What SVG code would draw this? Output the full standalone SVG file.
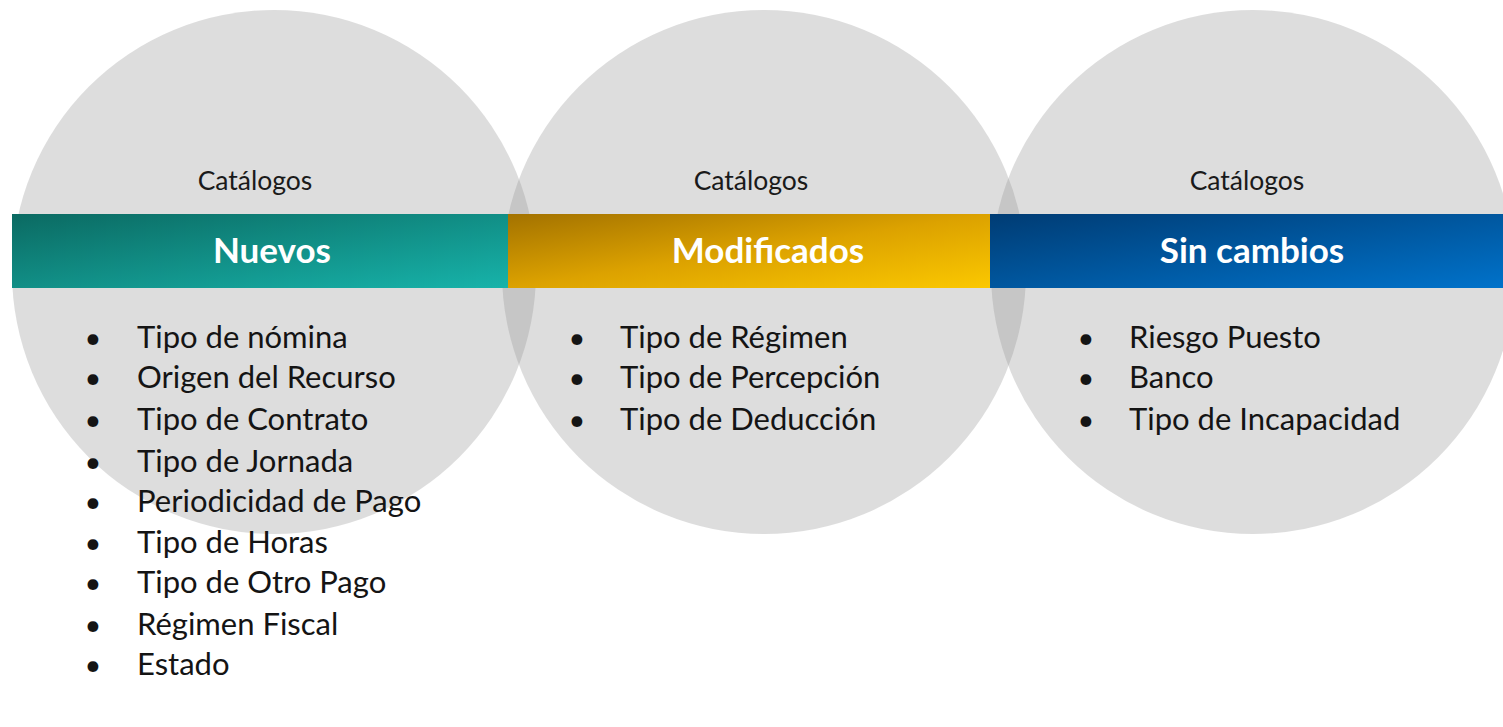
<svg xmlns="http://www.w3.org/2000/svg" width="1503" height="727" viewBox="0 0 1503 727">
<defs>
<linearGradient id="gTeal" x1="0" y1="0" x2="1" y2="1"><stop offset="0" stop-color="#0b6a62"/><stop offset="1" stop-color="#17b3aa"/></linearGradient>
<linearGradient id="gGold" x1="0" y1="0" x2="1" y2="1"><stop offset="0" stop-color="#a37200"/><stop offset="0.5" stop-color="#dca200"/><stop offset="1" stop-color="#fbc800"/></linearGradient>
<linearGradient id="gBlue" x1="0" y1="0" x2="1" y2="1"><stop offset="0" stop-color="#003c74"/><stop offset="1" stop-color="#0072ca"/></linearGradient>
<style>
.circ{fill:#959595;fill-opacity:0.32}
.cat{font-family:Lato,"Open Sans",sans-serif;font-size:26.5px;fill:#1a1a1a;text-anchor:middle}
.title{font-family:Lato,"Open Sans",sans-serif;font-size:35px;font-weight:bold;fill:#ffffff;text-anchor:middle}
.item{font-family:Lato,"Open Sans",sans-serif;font-size:31px;fill:#141414}
.bul{font-family:Lato,"Open Sans",sans-serif;font-size:29px;fill:#141414;text-anchor:middle}
</style>
</defs>
<rect width="1503" height="727" fill="#ffffff"/>
<g id="circles">
<circle class="circ" cx="274" cy="272" r="262"/>
<circle class="circ" cx="764" cy="272" r="262"/>
<circle class="circ" cx="1253" cy="272" r="262"/>
</g>
<g id="node-nuevos">
<rect x="12" y="214" width="496" height="74" fill="url(#gTeal)"/>
<text class="cat" x="255" y="190">Catálogos</text>
<text class="title" x="272" y="263">Nuevos</text>
<g class="bul"><text x="93" y="348">•</text><text x="93" y="388">•</text><text x="93" y="430">•</text><text x="93" y="472">•</text><text x="93" y="512">•</text><text x="93" y="553">•</text><text x="93" y="593">•</text><text x="93" y="635">•</text><text x="93" y="675">•</text></g>
<text class="item" x="137" y="348">Tipo de nómina</text>
<text class="item" x="137" y="388">Origen del Recurso</text>
<text class="item" x="137" y="430">Tipo de Contrato</text>
<text class="item" x="137" y="472">Tipo de Jornada</text>
<text class="item" x="137" y="512">Periodicidad de Pago</text>
<text class="item" x="137" y="553">Tipo de Horas</text>
<text class="item" x="137" y="593">Tipo de Otro Pago</text>
<text class="item" x="137" y="635">Régimen Fiscal</text>
<text class="item" x="137" y="675">Estado</text>
</g>
<g id="node-modificados">
<rect x="508" y="214" width="482" height="74" fill="url(#gGold)"/>
<text class="cat" x="751" y="190">Catálogos</text>
<text class="title" x="768" y="263">Modificados</text>
<g class="bul"><text x="577" y="348">•</text><text x="577" y="388">•</text><text x="577" y="430">•</text></g>
<text class="item" x="620" y="348">Tipo de Régimen</text>
<text class="item" x="620" y="388">Tipo de Percepción</text>
<text class="item" x="620" y="430">Tipo de Deducción</text>
</g>
<g id="node-sin-cambios">
<rect x="990" y="214" width="513" height="74" fill="url(#gBlue)"/>
<text class="cat" x="1247" y="190">Catálogos</text>
<text class="title" x="1252" y="263">Sin cambios</text>
<g class="bul"><text x="1086" y="348">•</text><text x="1086" y="388">•</text><text x="1086" y="430">•</text></g>
<text class="item" x="1129" y="348">Riesgo Puesto</text>
<text class="item" x="1129" y="388">Banco</text>
<text class="item" x="1129" y="430">Tipo de Incapacidad</text>
</g>
<g id="connectors"/>
</svg>
